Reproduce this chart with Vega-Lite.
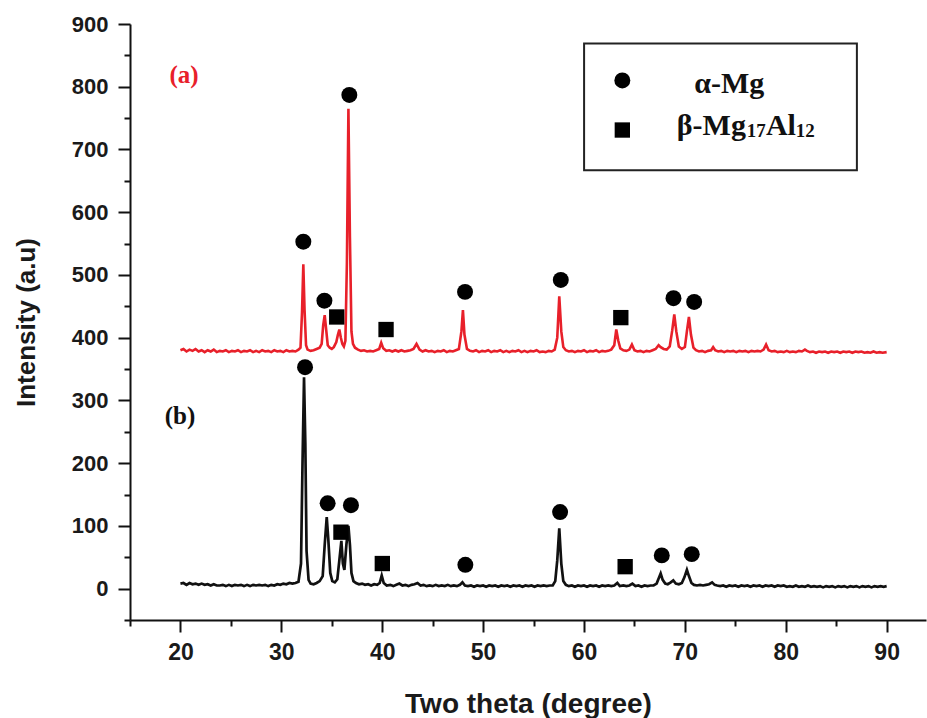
{
  "$schema": "https://vega.github.io/schema/vega-lite/v6.json",
  "width": 796,
  "height": 596,
  "autosize": {"type": "none"},
  "padding": {"left": 130, "top": 24, "right": 1, "bottom": 98},
  "background": "white",
  "config": {"view": {"stroke": null}, "font": "Liberation Sans"},
  "datasets": {
    "a": [
      {"x":20.0,"y":380},{"x":20.3,"y":382},{"x":20.6,"y":378},{"x":20.9,"y":381},{"x":21.2,"y":379},{"x":21.5,"y":382},{"x":21.8,"y":378},{"x":22.1,"y":380},{"x":22.4,"y":377},{"x":22.7,"y":380},{"x":23.0,"y":378},{"x":23.3,"y":381},{"x":23.6,"y":377},{"x":23.9,"y":379},{"x":24.2,"y":378},{"x":24.5,"y":380},{"x":24.8,"y":377},{"x":25.1,"y":379},{"x":25.4,"y":378},{"x":25.7,"y":380},{"x":26.0,"y":377},{"x":26.3,"y":379},{"x":26.6,"y":378},{"x":26.9,"y":380},{"x":27.2,"y":377},{"x":27.5,"y":379},{"x":27.8,"y":377},{"x":28.1,"y":380},{"x":28.4,"y":378},{"x":28.7,"y":379},{"x":29.0,"y":377},{"x":29.3,"y":380},{"x":29.6,"y":378},{"x":29.9,"y":379},{"x":30.2,"y":377},{"x":30.5,"y":380},{"x":30.8,"y":378},{"x":31.1,"y":379},{"x":31.4,"y":378},{"x":31.7,"y":381},{"x":31.9,"y":384},{"x":32.05,"y":440},{"x":32.18,"y":517},{"x":32.3,"y":445},{"x":32.45,"y":388},{"x":32.6,"y":381},{"x":32.9,"y":379},{"x":33.2,"y":380},{"x":33.5,"y":382},{"x":33.8,"y":384},{"x":34.0,"y":390},{"x":34.15,"y":420},{"x":34.3,"y":436},{"x":34.45,"y":412},{"x":34.6,"y":388},{"x":34.8,"y":384},{"x":35.0,"y":382},{"x":35.2,"y":385},{"x":35.45,"y":393},{"x":35.6,"y":404},{"x":35.75,"y":413},{"x":35.9,"y":400},{"x":36.05,"y":390},{"x":36.2,"y":386},{"x":36.35,"y":395},{"x":36.5,"y":520},{"x":36.65,"y":765},{"x":36.8,"y":560},{"x":36.95,"y":410},{"x":37.1,"y":390},{"x":37.3,"y":384},{"x":37.6,"y":381},{"x":37.9,"y":379},{"x":38.2,"y":380},{"x":38.5,"y":378},{"x":38.8,"y":379},{"x":39.1,"y":378},{"x":39.4,"y":380},{"x":39.7,"y":382},{"x":39.9,"y":392},{"x":40.1,"y":383},{"x":40.4,"y":379},{"x":40.7,"y":380},{"x":41.0,"y":378},{"x":41.3,"y":380},{"x":41.6,"y":378},{"x":41.9,"y":380},{"x":42.2,"y":378},{"x":42.5,"y":379},{"x":42.8,"y":380},{"x":43.1,"y":382},{"x":43.4,"y":390},{"x":43.7,"y":381},{"x":44.0,"y":378},{"x":44.3,"y":380},{"x":44.6,"y":378},{"x":44.9,"y":379},{"x":45.2,"y":377},{"x":45.5,"y":379},{"x":45.8,"y":378},{"x":46.1,"y":380},{"x":46.4,"y":377},{"x":46.7,"y":379},{"x":47.0,"y":378},{"x":47.3,"y":380},{"x":47.6,"y":382},{"x":47.85,"y":410},{"x":48.0,"y":444},{"x":48.15,"y":405},{"x":48.4,"y":382},{"x":48.7,"y":379},{"x":49.0,"y":378},{"x":49.3,"y":380},{"x":49.6,"y":377},{"x":49.9,"y":379},{"x":50.2,"y":378},{"x":50.5,"y":380},{"x":50.8,"y":377},{"x":51.1,"y":379},{"x":51.4,"y":378},{"x":51.7,"y":380},{"x":52.0,"y":377},{"x":52.3,"y":379},{"x":52.6,"y":377},{"x":52.9,"y":379},{"x":53.2,"y":378},{"x":53.5,"y":380},{"x":53.8,"y":377},{"x":54.1,"y":379},{"x":54.4,"y":377},{"x":54.7,"y":379},{"x":55.0,"y":378},{"x":55.3,"y":380},{"x":55.6,"y":377},{"x":55.9,"y":378},{"x":56.2,"y":377},{"x":56.5,"y":379},{"x":56.8,"y":378},{"x":57.1,"y":381},{"x":57.35,"y":400},{"x":57.55,"y":466},{"x":57.75,"y":410},{"x":57.95,"y":385},{"x":58.2,"y":380},{"x":58.5,"y":378},{"x":58.8,"y":379},{"x":59.1,"y":377},{"x":59.4,"y":379},{"x":59.7,"y":378},{"x":60.0,"y":380},{"x":60.3,"y":377},{"x":60.6,"y":379},{"x":60.9,"y":378},{"x":61.2,"y":380},{"x":61.5,"y":377},{"x":61.8,"y":379},{"x":62.1,"y":378},{"x":62.4,"y":379},{"x":62.7,"y":381},{"x":63.0,"y":388},{"x":63.2,"y":413},{"x":63.4,"y":395},{"x":63.6,"y":383},{"x":63.9,"y":380},{"x":64.2,"y":379},{"x":64.5,"y":381},{"x":64.75,"y":389},{"x":65.0,"y":380},{"x":65.3,"y":378},{"x":65.6,"y":379},{"x":65.9,"y":377},{"x":66.2,"y":379},{"x":66.5,"y":378},{"x":66.8,"y":380},{"x":67.1,"y":382},{"x":67.4,"y":388},{"x":67.6,"y":385},{"x":67.9,"y":382},{"x":68.2,"y":381},{"x":68.5,"y":386},{"x":68.75,"y":412},{"x":68.95,"y":437},{"x":69.15,"y":410},{"x":69.4,"y":386},{"x":69.7,"y":382},{"x":70.0,"y":385},{"x":70.2,"y":410},{"x":70.4,"y":433},{"x":70.6,"y":405},{"x":70.85,"y":384},{"x":71.1,"y":380},{"x":71.4,"y":378},{"x":71.7,"y":379},{"x":72.0,"y":377},{"x":72.3,"y":379},{"x":72.6,"y":380},{"x":72.8,"y":385},{"x":73.0,"y":380},{"x":73.3,"y":378},{"x":73.6,"y":379},{"x":73.9,"y":377},{"x":74.2,"y":379},{"x":74.5,"y":378},{"x":74.8,"y":379},{"x":75.1,"y":377},{"x":75.4,"y":379},{"x":75.7,"y":378},{"x":76.0,"y":379},{"x":76.3,"y":377},{"x":76.6,"y":379},{"x":76.9,"y":378},{"x":77.2,"y":379},{"x":77.5,"y":378},{"x":77.8,"y":381},{"x":78.05,"y":389},{"x":78.3,"y":380},{"x":78.6,"y":378},{"x":78.9,"y":379},{"x":79.2,"y":377},{"x":79.5,"y":378},{"x":79.8,"y":377},{"x":80.1,"y":379},{"x":80.4,"y":377},{"x":80.7,"y":378},{"x":81.0,"y":377},{"x":81.3,"y":379},{"x":81.6,"y":378},{"x":81.9,"y":381},{"x":82.1,"y":379},{"x":82.4,"y":377},{"x":82.7,"y":378},{"x":83.0,"y":376},{"x":83.3,"y":378},{"x":83.6,"y":377},{"x":83.9,"y":378},{"x":84.2,"y":376},{"x":84.5,"y":378},{"x":84.8,"y":377},{"x":85.1,"y":378},{"x":85.4,"y":376},{"x":85.7,"y":378},{"x":86.0,"y":377},{"x":86.3,"y":378},{"x":86.6,"y":376},{"x":86.9,"y":378},{"x":87.2,"y":377},{"x":87.5,"y":378},{"x":87.8,"y":376},{"x":88.1,"y":377},{"x":88.4,"y":376},{"x":88.7,"y":378},{"x":89.0,"y":376},{"x":89.3,"y":377},{"x":89.6,"y":376},{"x":90.0,"y":377}
    ],
    "b": [
      {"x":20.0,"y":8},{"x":20.3,"y":9},{"x":20.6,"y":6},{"x":20.9,"y":9},{"x":21.2,"y":7},{"x":21.5,"y":8},{"x":21.8,"y":6},{"x":22.1,"y":8},{"x":22.4,"y":6},{"x":22.7,"y":7},{"x":23.0,"y":5},{"x":23.3,"y":7},{"x":23.6,"y":5},{"x":23.9,"y":5},{"x":24.2,"y":6},{"x":24.5,"y":4},{"x":24.8,"y":6},{"x":25.1,"y":4},{"x":25.4,"y":6},{"x":25.7,"y":5},{"x":26.0,"y":6},{"x":26.3,"y":4},{"x":26.6,"y":6},{"x":26.9,"y":4},{"x":27.2,"y":6},{"x":27.5,"y":5},{"x":27.8,"y":6},{"x":28.1,"y":5},{"x":28.4,"y":6},{"x":28.7,"y":4},{"x":29.0,"y":6},{"x":29.3,"y":5},{"x":29.6,"y":7},{"x":29.9,"y":6},{"x":30.2,"y":8},{"x":30.5,"y":7},{"x":30.8,"y":9},{"x":31.1,"y":8},{"x":31.4,"y":9},{"x":31.7,"y":11},{"x":31.95,"y":40},{"x":32.1,"y":200},{"x":32.25,"y":337},{"x":32.38,"y":230},{"x":32.5,"y":60},{"x":32.7,"y":14},{"x":32.9,"y":8},{"x":33.2,"y":7},{"x":33.5,"y":9},{"x":33.8,"y":12},{"x":34.1,"y":20},{"x":34.3,"y":70},{"x":34.5,"y":114},{"x":34.65,"y":80},{"x":34.85,"y":25},{"x":35.05,"y":12},{"x":35.3,"y":10},{"x":35.55,"y":15},{"x":35.75,"y":45},{"x":35.95,"y":76},{"x":36.1,"y":40},{"x":36.25,"y":30},{"x":36.45,"y":70},{"x":36.65,"y":100},{"x":36.8,"y":70},{"x":36.95,"y":25},{"x":37.15,"y":12},{"x":37.4,"y":9},{"x":37.7,"y":7},{"x":38.0,"y":8},{"x":38.3,"y":6},{"x":38.6,"y":7},{"x":38.9,"y":5},{"x":39.2,"y":7},{"x":39.5,"y":6},{"x":39.75,"y":9},{"x":39.95,"y":21},{"x":40.15,"y":9},{"x":40.45,"y":5},{"x":40.8,"y":6},{"x":41.1,"y":4},{"x":41.4,"y":6},{"x":41.7,"y":8},{"x":42.0,"y":5},{"x":42.3,"y":6},{"x":42.6,"y":4},{"x":42.9,"y":6},{"x":43.2,"y":7},{"x":43.5,"y":9},{"x":43.8,"y":5},{"x":44.1,"y":6},{"x":44.4,"y":4},{"x":44.7,"y":5},{"x":45.0,"y":4},{"x":45.3,"y":6},{"x":45.6,"y":4},{"x":45.9,"y":5},{"x":46.2,"y":4},{"x":46.5,"y":6},{"x":46.8,"y":4},{"x":47.1,"y":5},{"x":47.4,"y":4},{"x":47.7,"y":6},{"x":47.95,"y":10},{"x":48.2,"y":5},{"x":48.5,"y":4},{"x":48.8,"y":5},{"x":49.1,"y":3},{"x":49.4,"y":5},{"x":49.7,"y":4},{"x":50.0,"y":5},{"x":50.3,"y":3},{"x":50.6,"y":5},{"x":50.9,"y":4},{"x":51.2,"y":5},{"x":51.5,"y":3},{"x":51.8,"y":5},{"x":52.1,"y":4},{"x":52.4,"y":5},{"x":52.7,"y":3},{"x":53.0,"y":5},{"x":53.3,"y":4},{"x":53.6,"y":5},{"x":53.9,"y":3},{"x":54.2,"y":5},{"x":54.5,"y":4},{"x":54.8,"y":5},{"x":55.1,"y":3},{"x":55.4,"y":5},{"x":55.7,"y":4},{"x":56.0,"y":5},{"x":56.3,"y":4},{"x":56.6,"y":5},{"x":56.9,"y":5},{"x":57.15,"y":12},{"x":57.35,"y":45},{"x":57.55,"y":96},{"x":57.75,"y":40},{"x":57.95,"y":12},{"x":58.2,"y":6},{"x":58.5,"y":4},{"x":58.8,"y":5},{"x":59.1,"y":3},{"x":59.4,"y":5},{"x":59.7,"y":4},{"x":60.0,"y":5},{"x":60.3,"y":3},{"x":60.6,"y":5},{"x":60.9,"y":4},{"x":61.2,"y":5},{"x":61.5,"y":3},{"x":61.8,"y":5},{"x":62.1,"y":4},{"x":62.4,"y":5},{"x":62.7,"y":4},{"x":63.0,"y":5},{"x":63.3,"y":9},{"x":63.55,"y":4},{"x":63.9,"y":5},{"x":64.2,"y":4},{"x":64.5,"y":5},{"x":64.8,"y":8},{"x":65.1,"y":4},{"x":65.4,"y":5},{"x":65.7,"y":3},{"x":66.0,"y":5},{"x":66.3,"y":4},{"x":66.6,"y":5},{"x":66.9,"y":5},{"x":67.2,"y":8},{"x":67.45,"y":18},{"x":67.6,"y":24},{"x":67.8,"y":14},{"x":68.05,"y":8},{"x":68.3,"y":7},{"x":68.6,"y":10},{"x":68.85,"y":13},{"x":69.1,"y":8},{"x":69.4,"y":7},{"x":69.7,"y":9},{"x":69.95,"y":18},{"x":70.2,"y":30},{"x":70.4,"y":20},{"x":70.65,"y":9},{"x":70.9,"y":6},{"x":71.2,"y":5},{"x":71.5,"y":6},{"x":71.8,"y":5},{"x":72.1,"y":6},{"x":72.4,"y":7},{"x":72.7,"y":10},{"x":72.95,"y":6},{"x":73.2,"y":5},{"x":73.5,"y":4},{"x":73.8,"y":5},{"x":74.1,"y":3},{"x":74.4,"y":5},{"x":74.7,"y":4},{"x":75.0,"y":5},{"x":75.3,"y":3},{"x":75.6,"y":5},{"x":75.9,"y":4},{"x":76.2,"y":5},{"x":76.5,"y":3},{"x":76.8,"y":5},{"x":77.1,"y":4},{"x":77.4,"y":5},{"x":77.7,"y":3},{"x":78.0,"y":5},{"x":78.3,"y":4},{"x":78.6,"y":5},{"x":78.9,"y":3},{"x":79.2,"y":5},{"x":79.5,"y":4},{"x":79.8,"y":5},{"x":80.1,"y":3},{"x":80.4,"y":4},{"x":80.7,"y":3},{"x":81.0,"y":5},{"x":81.3,"y":3},{"x":81.6,"y":4},{"x":81.9,"y":3},{"x":82.2,"y":5},{"x":82.5,"y":3},{"x":82.8,"y":4},{"x":83.1,"y":3},{"x":83.4,"y":4},{"x":83.7,"y":2},{"x":84.0,"y":4},{"x":84.3,"y":3},{"x":84.6,"y":4},{"x":84.9,"y":2},{"x":85.2,"y":4},{"x":85.5,"y":3},{"x":85.8,"y":4},{"x":86.1,"y":2},{"x":86.4,"y":4},{"x":86.7,"y":3},{"x":87.0,"y":4},{"x":87.3,"y":2},{"x":87.6,"y":4},{"x":87.9,"y":3},{"x":88.2,"y":4},{"x":88.5,"y":2},{"x":88.8,"y":4},{"x":89.1,"y":3},{"x":89.4,"y":4},{"x":89.7,"y":3},{"x":90.0,"y":4}
    ],
    "markers": [
      {"phase":"alpha","x":32.18,"y":553},{"phase":"alpha","x":34.27,"y":459},{"phase":"beta","x":35.49,"y":433},{"phase":"alpha","x":36.74,"y":787},{"phase":"beta","x":40.38,"y":413},{"phase":"alpha","x":48.21,"y":473},{"phase":"alpha","x":57.7,"y":492},{"phase":"beta","x":63.65,"y":432},{"phase":"alpha","x":68.87,"y":463},{"phase":"alpha","x":70.92,"y":457},
      {"phase":"alpha","x":32.35,"y":353},{"phase":"alpha","x":34.59,"y":136},{"phase":"beta","x":35.91,"y":90},{"phase":"alpha","x":36.9,"y":133},{"phase":"beta","x":40.01,"y":40},{"phase":"alpha","x":48.24,"y":38},{"phase":"alpha","x":57.63,"y":122},{"phase":"beta","x":64.08,"y":35},{"phase":"alpha","x":67.71,"y":53},{"phase":"alpha","x":70.68,"y":55},
      {"phase":"alpha","x":63.8,"y":810},{"phase":"beta","x":63.8,"y":731}
    ],
    "box": [{"x1":60.01,"x2":87.05,"y1":667,"y2":869}],
    "sampleA": [{"t":"(a)","x":20.35,"y":819}],
    "sampleB": [{"t":"(b)","x":19.96,"y":275}],
    "legendMain": [{"t":"α-Mg","x":70.92,"y":790},{"t":"β-Mg","x":69.2,"y":723},{"t":"Al","x":78.03,"y":723}],
    "legendSub": [{"t":"17","x":76.14,"y":720},{"t":"12","x":81.0,"y":720}]
  },
  "encoding": {
    "x": {"field":"x","type":"quantitative","scale":{"domain":[15,93.9],"nice":false,"zero":false},
      "axis":{"title":"Two theta (degree)","values":[15,20,25,30,35,40,45,50,55,60,65,70,75,80,85,90],
        "labelExpr":"datum.value % 10 === 0 ? datum.label : ''",
        "tickSize":{"condition":{"test":"datum.value % 10 === 0","value":12},"value":6},
        "grid":false,"domainColor":"#111","domainWidth":2,"tickColor":"#111","tickWidth":2,
        "labelFont":"Liberation Sans","labelFontWeight":"bold","labelFontSize":23,"labelColor":"#1a1a1a","labelPadding":9,"labelFlush":false,"labelOverlap":false,
        "titleFont":"Liberation Sans","titleFontWeight":"bold","titleFontSize":28,"titleColor":"#1a1a1a","titlePadding":26}},
    "y": {"field":"y","type":"quantitative","scale":{"domain":[-50,900],"nice":false,"zero":false},
      "axis":{"title":"Intensity (a.u)","values":[-50,0,50,100,150,200,250,300,350,400,450,500,550,600,650,700,750,800,850,900],
        "labelExpr":"datum.value % 100 === 0 ? datum.label : ''",
        "tickSize":{"condition":{"test":"datum.value % 100 === 0","value":12},"value":6},
        "grid":false,"domainColor":"#111","domainWidth":2,"tickColor":"#111","tickWidth":2,
        "labelFont":"Liberation Sans","labelFontWeight":"bold","labelFontSize":22,"labelColor":"#1a1a1a","labelPadding":10,"labelFlush":false,"labelOverlap":false,
        "titleFont":"Liberation Sans","titleFontWeight":"bold","titleFontSize":26,"titleColor":"#1a1a1a","titlePadding":32}}
  },
  "layer": [
    {"data":{"name":"box"},"mark":{"type":"rect","fill":"white","stroke":"#222","strokeWidth":2},
      "encoding":{"x":{"field":"x1","type":"quantitative"},"x2":{"field":"x2"},"y":{"field":"y1","type":"quantitative"},"y2":{"field":"y2"}}},
    {"data":{"name":"a"},"mark":{"type":"line","color":"#e8202a","strokeWidth":2.6,"interpolate":"linear"}},
    {"data":{"name":"b"},"mark":{"type":"line","color":"#111111","strokeWidth":2.7,"interpolate":"linear"}},
    {"data":{"name":"markers"},"mark":{"type":"point","filled":true,"color":"#000000","opacity":1},
      "encoding":{"shape":{"field":"phase","type":"nominal","scale":{"domain":["alpha","beta"],"range":["circle","square"]},"legend":null},
        "size":{"field":"phase","type":"nominal","scale":{"domain":["alpha","beta"],"range":[255,235]},"legend":null}}},
    {"data":{"name":"sampleA"},"mark":{"type":"text","font":"Liberation Serif","fontWeight":"bold","fontSize":25,"color":"#e8202a","align":"center","baseline":"middle"},
      "encoding":{"text":{"field":"t"}}},
    {"data":{"name":"sampleB"},"mark":{"type":"text","font":"Liberation Serif","fontWeight":"bold","fontSize":25,"color":"#111","align":"center","baseline":"middle"},
      "encoding":{"text":{"field":"t"}}},
    {"data":{"name":"legendMain"},"mark":{"type":"text","font":"Liberation Serif","fontWeight":"bold","fontSize":30,"color":"#111","align":"left","baseline":"alphabetic"},
      "encoding":{"text":{"field":"t"}}},
    {"data":{"name":"legendSub"},"mark":{"type":"text","font":"Liberation Serif","fontWeight":"bold","fontSize":19,"color":"#111","align":"left","baseline":"alphabetic"},
      "encoding":{"text":{"field":"t"}}},
    {"mark":{"type":"rule","color":"#111","strokeWidth":2},"encoding":{"y":{"datum":900},"x":{"value":0},"x2":{"value":796}}}
  ]
}
